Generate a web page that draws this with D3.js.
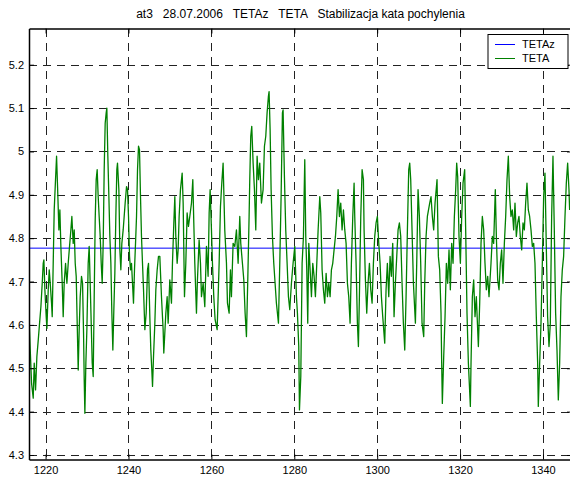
<!DOCTYPE html>
<html>
<head>
<meta charset="utf-8">
<script src="https://cdn.jsdelivr.net/npm/d3@7"></script>
<style>
    body { margin: 0; background: #fff; }
    svg { display: block; font-family: "Liberation Sans", Arial, sans-serif; }
    .axis text { font-size: 11px; fill: #000; }
    .axis path, .axis line { stroke: #000; }
    .grid line { stroke: #222; stroke-dasharray: 8,6; shape-rendering: crispEdges; }
</style>
</head>
<body>
<script>
var chartTitle = "at3   28.07.2006   TETAz   TETA   Stabilizacja kata pochylenia";

var xTicks = [1220, 1240, 1260, 1280, 1300, 1320, 1340];
var yTicks = [4.3, 4.4, 4.5, 4.6, 4.7, 4.8, 4.9, 5.0, 5.1, 5.2];
var yTickLabels = ["4.3", "4.4", "4.5", "4.6", "4.7", "4.8", "4.9", "5", "5.1", "5.2"];

var xDomain = [1216, 1347];
var yDomain = [4.2896, 5.2835];

var seriesNames = ["TETAz", "TETA"];
var seriesColors = ["#0000ff", "#008000"];

// setpoint (constant)
var tetazTime = [1216, 1347];
var tetazValue = [4.777, 4.777];

var tetaTime = [
    1215.97,1216.30,1216.62,1217.02,1217.26,1217.58,1217.90,1218.23,1218.55,1218.87,
    1219.19,1219.43,1219.59,1219.83,1220.15,1220.32,1220.64,1220.88,1221.12,1221.44,
    1221.60,1221.84,1222.08,1222.40,1222.65,1222.89,1223.21,1223.45,1223.69,1224.01,
    1224.25,1224.49,1224.82,1225.14,1225.46,1225.78,1226.10,1226.34,1226.66,1226.91,
    1227.15,1227.39,1227.63,1227.87,1228.11,1228.35,1228.67,1228.92,1229.16,1229.32,
    1229.48,1229.72,1229.96,1230.28,1230.52,1230.76,1231.01,1231.25,1231.49,1231.73,
    1231.97,1232.21,1232.45,1232.69,1232.93,1233.18,1233.42,1233.66,1233.90,1234.14,
    1234.38,1234.62,1234.78,1235.02,1235.27,1235.51,1235.75,1235.99,1236.23,1236.47,
    1236.71,1236.95,1237.19,1237.35,1237.68,1237.92,1238.16,1238.40,1238.72,1238.96,
    1239.20,1239.53,1239.77,1240.01,1240.25,1240.49,1240.73,1240.97,1241.21,1241.45,
    1241.70,1241.94,1242.18,1242.42,1242.66,1242.90,1243.14,1243.38,1243.63,1243.95,
    1244.27,1244.59,1244.83,1245.15,1245.39,1245.63,1245.80,1246.04,1246.36,1246.60,
    1246.92,1247.24,
    1247.56,1247.96,1248.36,1248.52,1249.01,1249.33,1249.57,1249.97,1250.37,1250.61,
    1250.94,1251.18,1251.42,1251.74,1251.98,1252.22,1252.54,1252.95,1253.19,1253.51,
    1253.83,1254.15,1254.47,1254.79,1255.20,1255.52,1255.76,1256.00,1256.40,1256.64,
    1257.04,1257.37,1257.61,1258.01,1258.41,1258.81,1259.21,1259.46,1259.70,1260.02,
    1260.26,1260.58,1260.90,1261.39,1261.87,1262.19,1262.51,1262.83,1263.23,1263.64,
    1263.88,1264.28,1264.60,1264.84,1265.24,1265.65,1266.05,1266.45,1266.85,1267.09,
    1267.49,1267.82,1268.14,1268.46,1268.78,1269.10,1269.26,1269.50,1269.74,1270.07,
    1270.39,1270.71,1271.03,1271.35,1271.67,1272.08,1272.48,1272.80,1273.12,1273.44,
    1273.76,1273.92,1274.17,1274.41,1274.73,1275.05,1275.37,1275.69,1276.18,1276.50,
    1276.82,1277.14,1277.30,1277.62,1277.94,1278.27,1278.59,1278.91,1279.31,1279.71,
    1280.12,1280.52,1280.76,1281.08,1281.25,1281.57,1281.89,1282.21,1282.37,1282.53,
    1282.77,1283.01,1283.25,1283.50,1283.82,1284.14,1284.46,1284.78,1285.10,1285.43,
    1285.75,1286.15,1286.39,1286.71,1287.03,1287.35,1287.68,1288.00,1288.32,1288.64,
    1288.96,1289.28,1289.60,1289.93,1290.25,1290.57,1290.89,1291.21,1291.53,1291.86,
    1292.18,1292.50,1292.82,1293.14,1293.46,1293.78,1294.11,1294.43,1294.59,1294.91,
    1295.23,1295.47,1295.71,1296.04,1296.36,1296.68,1296.84,1297.16,1297.48,1297.80,
    1298.13,1298.45,1298.77,1299.09,1299.41,1299.73,1300.05,1300.38,1300.70,1301.02,
    1301.34,1301.82,1302.14,1302.46,1302.79,1303.11,1303.43,1303.75,1304.07,1304.39,
    1304.72,1305.04,1305.36,1305.68,1306.00,1306.32,1306.65,1306.97,1307.29,1307.61,
    1307.85,1308.09,1308.41,1308.74,1309.22,1309.54,1309.86,1310.18,1310.50,1310.82,
    1311.23,1311.47,1311.79,1312.11,
    1312.67,1312.99,1313.31,1313.63,1313.96,1314.44,1314.76,1315.08,1315.40,1315.56,
    1315.72,1316.05,1316.37,1316.69,1317.01,1317.33,1317.65,1317.98,1318.30,1318.62,
    1318.94,1319.18,1319.42,1319.74,1320.07,1320.39,1320.71,1321.11,1321.35,1321.67,
    1322.00,1322.48,1322.64,1322.96,1323.28,1323.60,1323.92,1324.41,1324.73,1325.05,
    1325.37,1325.69,1326.01,1326.33,1326.66,1326.98,1327.46,1327.78,1328.10,1328.50,
    1328.75,1329.07,1329.39,1329.71,1330.03,1330.35,1330.68,1331.00,1331.32,1331.64,
    1331.96,1332.28,1332.60,1332.93,1333.25,1333.57,1333.89,1334.21,1334.53,1334.86,
    1335.18,1335.50,1335.82,1336.14,1336.46,1336.78,1337.11,1337.43,1337.75,1338.07,
    1338.39,1338.71,1338.87,1339.20,1339.52,1339.84,1340.16,1340.48,1340.80,1341.12,
    1341.45,1341.77,1342.09,1342.41,1342.73,1343.05,1343.38,1343.70,1344.02,1344.34,
    1344.66,1344.98,1345.31,1345.63,1345.95,1346.27,1346.43
];

var tetaValue = [
    4.635,4.542,4.465,4.431,4.512,4.450,4.527,4.565,4.604,4.642,
    4.696,4.742,4.750,4.681,4.619,4.592,4.681,4.727,4.696,4.650,
    4.619,4.742,4.865,4.935,4.989,4.919,4.819,4.865,4.781,4.696,
    4.619,4.696,4.742,4.696,4.742,4.781,4.819,4.850,4.788,4.819,
    4.742,4.712,4.604,4.496,4.589,4.665,4.712,4.696,4.581,4.473,
    4.396,4.512,4.589,4.742,4.781,4.696,4.604,4.512,4.481,4.665,
    4.842,4.935,4.958,4.896,4.850,4.804,4.742,4.696,4.788,4.958,
    5.065,5.089,5.100,4.989,4.896,4.804,4.742,4.627,4.542,4.635,
    4.719,4.850,4.958,4.973,4.912,4.773,4.727,4.788,4.819,4.850,
    4.881,4.919,4.912,4.850,4.758,4.727,4.742,4.696,4.650,4.727,
    4.788,4.850,4.958,5.012,5.004,4.896,4.804,4.742,4.681,4.589,
    4.627,4.727,4.742,4.619,4.542,4.496,4.458,4.527,4.604,4.681,
    4.727,4.758,
    4.758,4.665,4.589,4.535,4.627,4.665,4.604,4.704,4.650,4.742,
    4.835,4.896,4.804,4.742,4.773,4.850,4.912,4.950,4.881,4.665,
    4.742,4.858,4.827,4.850,4.881,4.935,4.835,4.742,4.627,4.704,
    4.796,4.742,4.665,4.696,4.642,4.781,4.712,4.858,4.912,4.819,
    4.742,4.665,4.612,4.589,4.742,4.873,4.927,4.973,4.819,4.742,
    4.650,4.627,4.727,4.665,4.788,4.781,4.819,4.742,4.850,4.788,
    4.742,4.704,4.627,4.573,4.704,4.850,4.935,5.035,5.058,4.973,
    4.912,4.819,4.989,4.935,4.973,4.881,4.912,5.012,5.035,5.089,
    5.127,5.138,5.050,4.912,4.804,4.742,4.696,4.650,4.604,4.742,
    4.896,5.089,5.096,4.942,4.819,4.742,4.665,4.635,4.696,4.742,
    4.781,4.665,4.627,4.550,4.404,4.481,4.742,4.804,4.896,4.981,
    4.804,4.727,4.604,4.788,4.727,4.665,4.742,4.712,4.665,4.742,
    4.819,4.896,4.858,4.727,4.681,4.650,4.719,4.665,4.696,4.665,
    4.727,4.742,4.773,4.804,4.850,4.912,4.850,4.881,4.819,4.865,
    4.819,4.788,4.696,4.665,4.604,4.742,4.850,4.927,4.850,4.742,
    4.604,4.550,4.665,4.850,4.958,4.935,4.819,4.704,4.627,4.696,
    4.742,4.681,4.650,4.742,4.804,4.835,4.850,4.788,4.742,4.665,
    4.619,4.558,4.681,4.742,4.665,4.758,4.712,4.788,4.619,4.696,
    4.758,4.819,4.835,4.804,4.696,4.604,4.542,4.665,4.819,4.958,
    4.973,4.935,4.819,4.696,4.604,4.742,4.912,4.850,4.742,4.604,
    4.573,4.696,4.804,4.850,
    4.881,4.896,4.850,4.819,4.881,4.935,4.758,4.727,4.627,4.512,
    4.419,4.527,4.619,4.742,4.696,4.773,4.681,4.788,4.742,4.850,
    4.912,4.973,4.942,4.804,4.742,4.850,4.927,4.958,4.819,4.627,
    4.512,4.412,4.512,4.665,4.704,4.619,4.665,4.550,4.650,4.788,
    4.850,4.819,4.742,4.681,4.712,4.665,4.742,4.804,4.788,4.912,
    4.804,4.704,4.681,4.742,4.773,4.696,4.788,4.850,4.935,4.989,
    4.896,4.850,4.865,4.819,4.881,4.804,4.835,4.850,4.804,4.773,
    4.835,4.819,4.881,4.927,4.865,4.850,4.819,4.781,4.788,4.742,
    4.619,4.512,4.412,4.512,4.604,4.742,4.896,4.950,4.781,4.619,
    4.550,4.604,4.850,4.989,4.819,4.627,4.542,4.427,4.512,4.665,
    4.727,4.758,4.850,4.927,4.973,4.912,4.865
];

var width = 570, height = 477;
var box = {left: 29, right: 572, top: 28.5, bottom: 459.5};

var svg = d3.select("body").append("svg")
    .attr("width", width)
    .attr("height", height);

svg.append("rect")
    .attr("width", width)
    .attr("height", height)
    .attr("fill", "#fff");

var x = d3.scaleLinear().domain(xDomain).range([box.left, box.right]);
var y = d3.scaleLinear().domain(yDomain).range([box.bottom, box.top]);

svg.append("defs").append("clipPath")
    .attr("id", "plot-clip")
    .append("rect")
    .attr("x", box.left)
    .attr("y", box.top)
    .attr("width", box.right - box.left)
    .attr("height", box.bottom - box.top);

// Dashed grid
var grid = svg.append("g").attr("class", "grid");

grid.selectAll(".vgrid")
    .data(xTicks)
    .enter()
    .append("line")
    .attr("class", "vgrid")
    .attr("x1", function(d) { return Math.round(x(d)) + 0.5; })
    .attr("x2", function(d) { return Math.round(x(d)) + 0.5; })
    .attr("y1", box.top)
    .attr("y2", box.bottom);

grid.selectAll(".hgrid")
    .data(yTicks)
    .enter()
    .append("line")
    .attr("class", "hgrid")
    .attr("x1", box.left)
    .attr("x2", box.right)
    .attr("y1", function(d) { return Math.round(y(d)) + 0.5; })
    .attr("y2", function(d) { return Math.round(y(d)) + 0.5; });

// Series lines
var line = d3.line()
    .x(function(d) { return x(d[0]); })
    .y(function(d) { return y(d[1]); });

var plot = svg.append("g").attr("clip-path", "url(#plot-clip)");

plot.append("path")
    .datum(d3.zip(tetazTime, tetazValue))
    .attr("fill", "none")
    .attr("stroke", seriesColors[0])
    .attr("stroke-width", 1)
    .attr("d", line);

plot.append("path")
    .datum(d3.zip(tetaTime, tetaValue))
    .attr("fill", "none")
    .attr("stroke", seriesColors[1])
    .attr("stroke-width", 1.3)
    .attr("stroke-linejoin", "round")
    .attr("d", line);

// Axes with inward ticks on every side (box on)
svg.append("g")
    .attr("class", "axis")
    .attr("transform", "translate(0," + box.bottom + ")")
    .call(d3.axisBottom(x).tickValues(xTicks).tickFormat(d3.format("d"))
        .tickSizeInner(-5).tickSizeOuter(0).tickPadding(7));

svg.append("g")
    .attr("class", "axis")
    .attr("transform", "translate(0," + box.top + ")")
    .call(d3.axisTop(x).tickValues(xTicks).tickFormat("")
        .tickSizeInner(-5).tickSizeOuter(0));

svg.append("g")
    .attr("class", "axis")
    .attr("transform", "translate(" + box.left + ",0)")
    .call(d3.axisLeft(y).tickValues(yTicks)
        .tickFormat(function(d, i) { return yTickLabels[i]; })
        .tickSizeInner(-5).tickSizeOuter(0).tickPadding(5));

svg.append("g")
    .attr("class", "axis")
    .attr("transform", "translate(" + box.right + ",0)")
    .call(d3.axisRight(y).tickValues(yTicks).tickFormat("")
        .tickSizeInner(-5).tickSizeOuter(0));

svg.selectAll(".axis .domain").attr("stroke-width", 1.5);

// Title
svg.append("text")
    .attr("x", (box.left + box.right) / 2)
    .attr("y", 17.5)
    .attr("text-anchor", "middle")
    .style("font-size", "12px")
    .style("white-space", "pre")
    .attr("xml:space", "preserve")
    .text(chartTitle);

// Legend
var legend = svg.append("g").attr("transform", "translate(488,34.5)");

legend.append("rect")
    .attr("width", 80)
    .attr("height", 34)
    .attr("fill", "#fff")
    .attr("stroke", "#000")
    .attr("stroke-width", 1);

var item = legend.selectAll(".item")
    .data(seriesNames)
    .enter()
    .append("g")
    .attr("class", "item")
    .attr("transform", function(d, i) { return "translate(0," + (10 + i * 14) + ")"; });

item.append("line")
    .attr("x1", 7)
    .attr("x2", 27)
    .attr("stroke", function(d, i) { return seriesColors[i]; })
    .attr("stroke-width", 1);

item.append("text")
    .attr("x", 34)
    .attr("dy", "0.35em")
    .style("font-size", "11px")
    .text(function(d) { return d; });
</script>
</body>
</html>
